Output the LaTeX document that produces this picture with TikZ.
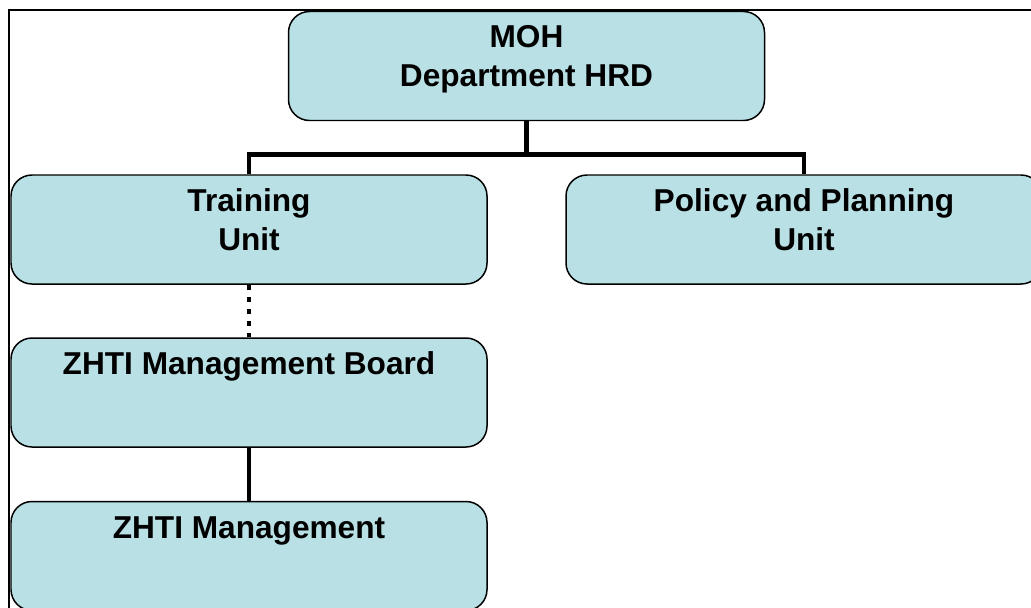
\documentclass[tikz,border=0pt]{standalone}
\usepackage{fontspec}
\setmainfont{Liberation Sans}
\usepackage{tikz}

\definecolor{unitfill}{RGB}{185,224,228}

\newcommand{\unittext}[1]{\parbox[c][2.18cm][t]{9.3cm}{\centering\rule{0pt}{0.73cm}#1}}

\tikzset{
	unitbox/.style={draw=black, fill=unitfill, line width=0.85pt, rounded corners=0.42cm,
		minimum width=9.52cm, minimum height=2.18cm, inner sep=0pt,
		font=\fontsize{18}{22}\selectfont\bfseries},
	link/.style={line width=2.8pt},
	dotlink/.style={line width=2.8pt, dash pattern=on 0.11cm off 0.13cm}
}

\begin{document}
\begin{tikzpicture}
	\useasboundingbox (0, 0) rectangle (20.62, 12.14);
	\clip (0, 0) rectangle (20.62, 12.14);
	\draw[line width=0.85pt] (0.18, -1) rectangle (22, 11.94);

	\node[unitbox] (moh) at (10.53, 10.82) {\unittext{MOH\\Department HRD}};
	\node[unitbox] (training) at (4.98, 7.55) {\unittext{Training\\Unit}};
	\node[unitbox] (policy) at (16.08, 7.55) {\unittext{Policy and Planning\\Unit}};
	\node[unitbox] (board) at (4.98, 4.29) {\unittext{ZHTI Management Board}};
	\node[unitbox] (mgmt) at (4.98, 1.02) {\unittext{ZHTI Management}};

	\draw[link] (moh.south) -- ++(0, -0.66) coordinate (fork);
	\draw[link] (fork) -| (training.north);
	\draw[link] (fork) -| (policy.north);
	\draw[dotlink] (training.south) -- (board.north);
	\draw[link] (board.south) -- (mgmt.north);
\end{tikzpicture}
\end{document}
